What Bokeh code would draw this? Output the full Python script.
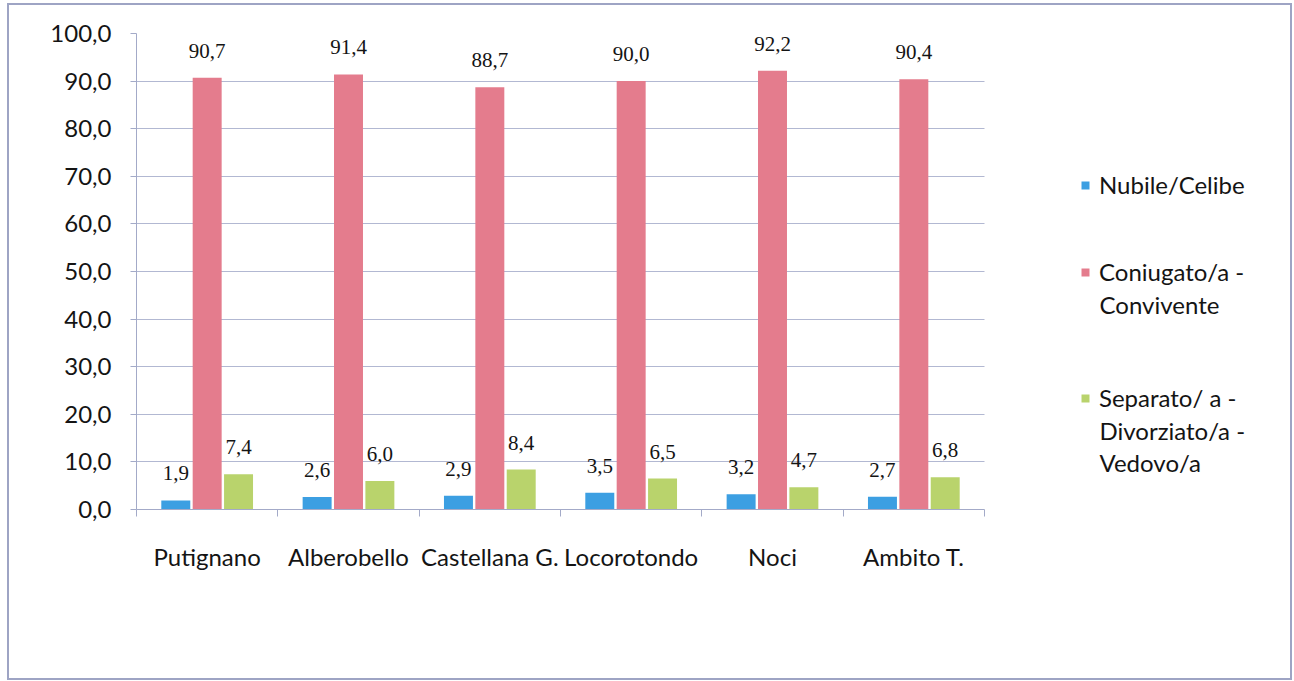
from bokeh.plotting import figure
from bokeh.models import (ColumnDataSource, Range1d, LinearAxis, FixedTicker,
                          Legend, LegendItem, Label)
from bokeh.core.properties import value
from bokeh.embed import file_html
from bokeh.resources import INLINE

# Stato civile per comune (%)
categories = ["Putignano", "Alberobello", "Castellana G.", "Locorotondo", "Noci", "Ambito T."]
nubile_celibe = [1.9, 2.6, 2.9, 3.5, 3.2, 2.7]
coniugato_convivente = [90.7, 91.4, 88.7, 90.0, 92.2, 90.4]
separato_divorziato_vedovo = [7.4, 6.0, 8.4, 6.5, 4.7, 6.8]
series_names = ["Nubile/Celibe",
                "Coniugato/a -\nConvivente",
                "Separato/ a -\nDivorziato/a -\nVedovo/a"]
y_ticks = [0, 10, 20, 30, 40, 50, 60, 70, 80, 90, 100]

series_values = [nubile_celibe, coniugato_convivente, separato_divorziato_vedovo]
colors = ["#3c9fe2", "#e47c8d", "#b9d36c"]
offsets = [-0.222, 0.0, 0.222]
BAR_W = 0.205

GRID = "#b2b8d2"
AXIS = "#a3aac8"
TEXT = "#141414"
FRAME = "#9ea4c4"

W, H = 1294, 681
LEFT, RIGHT, TOP, BOTTOM = 136, 6, 33, 172
BARS_PX = 848          # width of the bar area inside the frame
LEG_X = 944            # legend column, px from frame left
LINE_H = 32


def it_num(v):
    return f"{v:.1f}".replace(".", ",")


n = len(categories)
centers = [i + 0.5 for i in range(n)]
frame_w = W - LEFT - RIGHT
frame_h = H - TOP - BOTTOM

p = figure(x_range=Range1d(0, n * frame_w / BARS_PX), y_range=Range1d(0, 100),
           width=W, height=H, x_axis_type=None,
           min_border_left=LEFT, min_border_right=RIGHT, min_border_top=TOP,
           min_border_bottom=BOTTOM,
           output_backend="svg", toolbar_location=None,
           background_fill_color="white", border_fill_color=None, outline_line_color=None)

# thin frame round the whole chart area
line = f"linear-gradient({FRAME}, {FRAME})"
p.styles = {
    "background": (f"{line} 7px 3px / 2px 677px no-repeat, "
                   f"{line} 1290px 3px / 2px 677px no-repeat, "
                   f"{line} 7px 3px / 1285px 2px no-repeat, "
                   f"{line} 7px 678px / 1285px 2px no-repeat, white"),
}

# value axis
yax = p.yaxis[0]
yax.ticker = FixedTicker(ticks=y_ticks)
yax.major_label_overrides = {t: it_num(t) for t in y_ticks}
yax.axis_line_color = AXIS
yax.major_tick_line_color = AXIS
yax.minor_tick_line_color = None
yax.major_tick_in = 0
yax.major_tick_out = 6
yax.major_label_standoff = 19
yax.major_label_text_font = "Lato"
yax.major_label_text_font_size = "24px"
yax.major_label_text_color = TEXT

p.xgrid.grid_line_color = None
p.ygrid.ticker = FixedTicker(ticks=y_ticks)
p.ygrid.grid_line_color = GRID
p.ygrid.grid_line_width = 1
p.ygrid.cross_bounds = (0, n)

# category axis: names under each group, tick marks between groups
name_axis = LinearAxis(ticker=FixedTicker(ticks=centers, minor_ticks=list(range(n + 1))),
                       major_label_overrides={c: name for c, name in zip(centers, categories)},
                       bounds=(0, n),
                       axis_line_color=AXIS, major_tick_line_color=None,
                       minor_tick_line_color=AXIS, minor_tick_in=0, minor_tick_out=7,
                       major_tick_in=0, major_tick_out=0, major_label_standoff=25,
                       major_label_text_font="Lato", major_label_text_font_size="24px",
                       major_label_text_color=TEXT)
p.add_layout(name_axis, "below")

bars = []
for vals, col, off in zip(series_values, colors, offsets):
    src = ColumnDataSource(dict(x=[c + off for c in centers], top=vals,
                                label=[it_num(v) for v in vals]))
    r = p.vbar(x="x", top="top", width=BAR_W, source=src,
               fill_color=col, line_color=None)
    bars.append(r)
    p.text(x="x", y="top", text="label", source=src,
           text_align="center", text_baseline="middle", y_offset=-27,
           text_font=value("Liberation Serif"), text_font_size="21px", text_color=TEXT)

# legend: one block per series; the swatch sits on the first line of its name
first_line_y = [185, 272, 398]        # px from the top of the chart
for name, r, sy in zip(series_names, bars, first_line_y):
    lines = name.split("\n")
    item_h = 28
    leg = Legend(items=[LegendItem(label=lines[0], renderers=[r])],
                 location=(LEG_X, frame_h - (sy - TOP) - item_h / 2),
                 glyph_width=10, glyph_height=10, label_standoff=9,
                 padding=0, spacing=0, margin=0, border_line_color=None,
                 background_fill_alpha=0, label_text_font="Lato", label_text_font_size="24px",
                 label_text_color=TEXT, label_height=item_h)
    p.add_layout(leg)
    for i, extra in enumerate(lines[1:], start=1):
        p.add_layout(Label(x=LEG_X + 19, y=frame_h - (sy - TOP) - LINE_H * i,
                           x_units="screen", y_units="screen",
                           text=extra, text_baseline="middle", text_font="Lato",
                           text_font_size="24px", text_color=TEXT))

open("out.html", "w").write(file_html(p, INLINE))
